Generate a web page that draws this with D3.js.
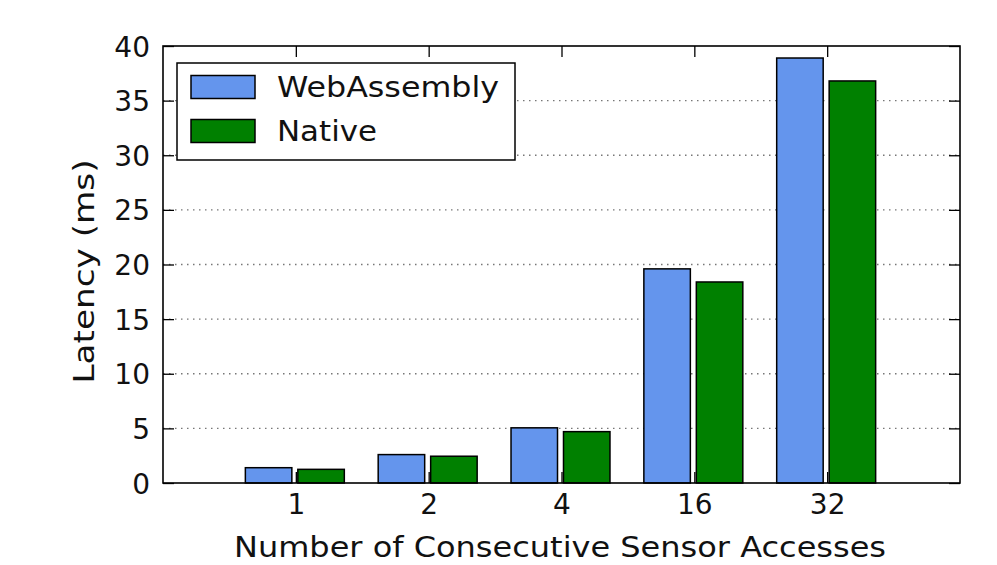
<!DOCTYPE html>
<html>
<head>
<meta charset="utf-8">
<script src="https://cdn.jsdelivr.net/npm/d3@7/dist/d3.min.js"></script>
<style>
  html, body { margin: 0; padding: 0; background: #fff; }
  svg { display: block; font-family: "DejaVu Sans", sans-serif; }
</style>
</head>
<body>
<svg id="chart" width="997" height="565"></svg>
<script>
// Latency per number of consecutive sensor accesses
const categories = ["1", "2", "4", "16", "32"];
const seriesNames = ["WebAssembly", "Native"];
const webAssembly = [1.4, 2.6, 5.05, 19.6, 38.9];
const native = [1.25, 2.45, 4.7, 18.4, 36.8];
const yTicks = [0, 5, 10, 15, 20, 25, 30, 35, 40];
const seriesColors = ["#6495ED", "#008000"];

(function () {
const svg = d3.select("#chart");
const pLeft = 163, pRight = 960, pTop = 46, pBottom = 483;

// Category slots sit at 1..5 on a 0..6 axis
const x = d3.scaleLinear().domain([0, categories.length + 1]).range([pLeft, pRight]);
const y = d3.scaleLinear().domain([0, 40]).range([pBottom, pTop]);

const barW = 0.35;
const offsets = [-0.38, 0.015];
const series = [webAssembly, native];

// dotted horizontal grid
svg.append("g")
  .selectAll("line")
  .data(yTicks.filter(t => t > 0 && t < 40))
  .join("line")
  .attr("x1", pLeft).attr("x2", pRight)
  .attr("y1", d => y(d)).attr("y2", d => y(d))
  .attr("stroke", "#777")
  .attr("stroke-width", 1.3)
  .attr("stroke-dasharray", "1.5,4.5");

// bars
series.forEach((vals, si) => {
  svg.append("g")
    .selectAll("rect")
    .data(vals)
    .join("rect")
    .attr("x", (d, i) => x(i + 1 + offsets[si]))
    .attr("width", x(barW) - x(0))
    .attr("y", d => y(d))
    .attr("height", d => y(0) - y(d))
    .attr("fill", seriesColors[si])
    .attr("stroke", "#000")
    .attr("stroke-width", 1.5);
});

const tickLen = 11;
const catPos = categories.map((c, i) => i + 1);

// bottom axis: inward ticks and labels
const xAxisB = d3.axisBottom(x).tickValues(catPos)
  .tickFormat((d, i) => categories[i]).tickSizeInner(-tickLen).tickSizeOuter(0);
const gxb = svg.append("g").attr("transform", `translate(0,${pBottom})`).call(xAxisB);
// top axis: inward ticks only
const xAxisT = d3.axisTop(x).tickValues(catPos).tickFormat("").tickSizeInner(-tickLen).tickSizeOuter(0);
const gxt = svg.append("g").attr("transform", `translate(0,${pTop})`).call(xAxisT);
// left axis with labels
const yAxisL = d3.axisLeft(y).tickValues(yTicks).tickSizeInner(-tickLen).tickSizeOuter(0);
const gyl = svg.append("g").attr("transform", `translate(${pLeft},0)`).call(yAxisL);
// right axis: inward ticks only
const yAxisR = d3.axisRight(y).tickValues(yTicks).tickFormat("").tickSizeInner(-tickLen).tickSizeOuter(0);
const gyr = svg.append("g").attr("transform", `translate(${pRight},0)`).call(yAxisR);

[gxb, gxt, gyl, gyr].forEach(g => {
  g.select(".domain").remove();
  g.selectAll(".tick line").attr("stroke", "#000").attr("stroke-width", 1.3);
  g.selectAll(".tick text").attr("fill", "#111").style("font-size", "28px").style("font-family", "DejaVu Sans");
});
gxb.selectAll(".tick text").attr("y", 11).attr("dy", "0.71em");
gyl.selectAll(".tick text").attr("x", -13).attr("dy", "0.36em");

// frame
svg.append("rect")
  .attr("x", pLeft).attr("y", pTop)
  .attr("width", pRight - pLeft).attr("height", pBottom - pTop)
  .attr("fill", "none").attr("stroke", "#000").attr("stroke-width", 1.6);

// axis titles (slightly widened lettering)
svg.append("text")
  .attr("x", 560).attr("y", 557)
  .attr("text-anchor", "middle")
  .attr("fill", "#111")
  .attr("textLength", 652)
  .attr("lengthAdjust", "spacingAndGlyphs")
  .style("font-size", "28px")
  .text("Number of Consecutive Sensor Accesses");

svg.append("text")
  .attr("transform", `translate(94,${(pTop + pBottom) / 2 + 7}) rotate(-90)`)
  .attr("text-anchor", "middle")
  .attr("fill", "#111")
  .attr("textLength", 224)
  .attr("lengthAdjust", "spacingAndGlyphs")
  .style("font-size", "28px")
  .text("Latency (ms)");

// legend
const legendWidths = [222, 100];
const lg = svg.append("g");
lg.append("rect")
  .attr("x", 177).attr("y", 63).attr("width", 338).attr("height", 97)
  .attr("fill", "#fff").attr("stroke", "#000").attr("stroke-width", 1.5);
seriesNames.forEach((name, i) => {
  const cy = 87 + i * 44;
  lg.append("rect")
    .attr("x", 191).attr("y", cy - 11.5).attr("width", 64).attr("height", 23)
    .attr("fill", seriesColors[i]).attr("stroke", "#000").attr("stroke-width", 1.5);
  lg.append("text")
    .attr("x", 277).attr("y", cy).attr("dy", "0.36em")
    .attr("fill", "#111")
    .attr("textLength", legendWidths[i])
    .attr("lengthAdjust", "spacingAndGlyphs")
    .style("font-size", "28px")
    .text(name);
});
})();
</script>
</body>
</html>
